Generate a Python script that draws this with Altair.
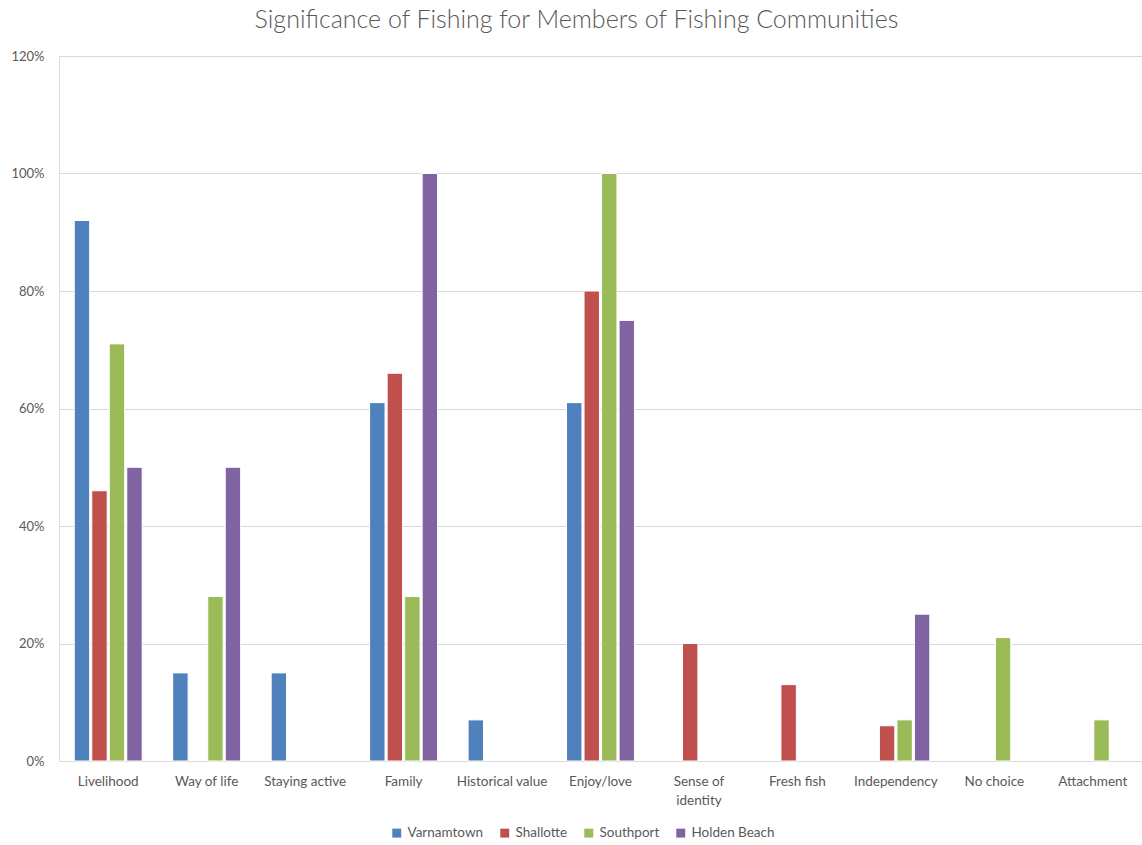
import altair as alt
import pandas as pd

categories = ["Livelihood", "Way of life", "Staying active", "Family", "Historical value",
              "Enjoy/love", "Sense of identity", "Fresh fish", "Independency", "No choice",
              "Attachment"]
series = ["Varnamtown", "Shallotte", "Southport", "Holden Beach"]
colors = ["#4F81BD", "#C0504D", "#9BBB59", "#8064A2"]

# Share of respondents (%) per community; None means no response in that category
varnamtown = [92, 15, 15, 61, 7, 61, None, None, None, None, None]
shallotte = [46, None, None, 66, None, 80, 20, 13, 6, None, None]
southport = [71, 28, None, 28, None, 100, None, None, 7, 21, 7]
holden_beach = [50, 50, None, 100, None, 75, None, None, 25, None, None]

rows = []
for name, vals in zip(series, [varnamtown, shallotte, southport, holden_beach]):
    for cat, v in zip(categories, vals):
        if v is not None:
            rows.append({"category": cat, "community": name, "share": v / 100})
df = pd.DataFrame(rows)

font = "Lato"
text_gray = "#595959"

chart = alt.Chart(df).mark_bar(stroke="white", strokeWidth=1).encode(
    x=alt.X("category:N", sort=categories, title=None,
            scale=alt.Scale(paddingInner=0.31, paddingOuter=0.155),
            axis=alt.Axis(labelAngle=0, ticks=False, domainColor="#d9d9d9",
                          labelPadding=13, labelFontSize=13.5, labelColor=text_gray,
                          labelFont=font, labelLineHeight=19,
                          labelExpr="datum.label == 'Sense of identity' ? ['Sense of', 'identity'] : datum.label")),
    xOffset=alt.XOffset("community:N", sort=series,
                        scale=alt.Scale(domain=series, paddingInner=0.12)),
    y=alt.Y("share:Q", title=None,
            scale=alt.Scale(domain=[0, 1.2]),
            axis=alt.Axis(format=".0%", values=[0, 0.2, 0.4, 0.6, 0.8, 1.0, 1.2],
                          domain=False, ticks=False, gridColor="#d9d9d9",
                          labelPadding=15, labelFontSize=13, labelColor=text_gray,
                          labelFont=font)),
    color=alt.Color("community:N", sort=series,
                    scale=alt.Scale(domain=series, range=colors),
                    legend=alt.Legend(title=None, orient="none", direction="horizontal",
                                      legendX=331, legendY=770, symbolType="square",
                                      symbolSize=80, symbolStrokeWidth=0,
                                      labelFontSize=13.5, labelColor=text_gray, labelFont=font,
                                      columnPadding=14, labelOffset=4)),
).properties(
    width=1083,
    height=705,
    padding={"left": 59, "top": 56, "right": 0, "bottom": 84},
    autosize=alt.AutoSizeParams(type="none"),
    title=alt.TitleParams("Significance of Fishing for Members of Fishing Communities",
                          font=font, fontSize=25, fontWeight=300, color=text_gray,
                          anchor="middle", frame="bounds", offset=17),
).configure_view(stroke=None).configure(background="white")

chart.save("out.html", embed_options={"renderer": "svg", "actions": False})
